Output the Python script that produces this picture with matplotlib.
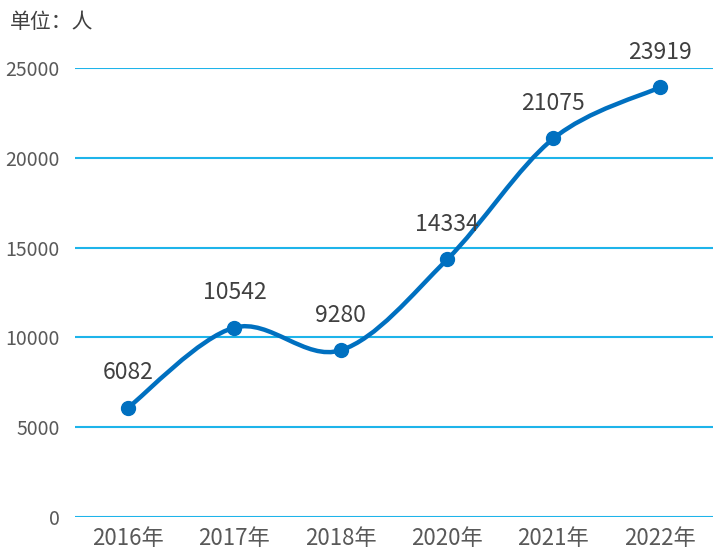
import matplotlib.pyplot as plt
from matplotlib.path import Path
import matplotlib.patches as mpatches
import numpy as np

plt.rcParams['font.family'] = ['Noto Sans CJK SC', 'DejaVu Sans']

years = ['2016年', '2017年', '2018年', '2020年', '2021年', '2022年']
people = [6082, 10542, 9280, 14334, 21075, 23919]

line_color = '#0070C0'
grid_color = '#1EB4EA'

fig = plt.figure(figsize=(7.13, 5.57), dpi=100)
ax = fig.add_axes([0.105, 0.072, 0.895, 0.806])

x = np.arange(len(years))
y = np.array(people, dtype=float)

# smooth curve: Catmull-Rom style bezier through the points
pts = np.column_stack([x, y])
ext = np.vstack([pts[0], pts, pts[-1]])
verts = [tuple(pts[0])]
codes = [Path.MOVETO]
for i in range(len(pts) - 1):
    p0, p1, p2, p3 = ext[i], ext[i + 1], ext[i + 2], ext[i + 3]
    c1 = p1 + (p2 - p0) / 6
    c2 = p2 - (p3 - p1) / 6
    verts += [tuple(c1), tuple(c2), tuple(p2)]
    codes += [Path.CURVE4, Path.CURVE4, Path.CURVE4]
curve = mpatches.PathPatch(Path(verts, codes), facecolor='none', edgecolor=line_color,
                           linewidth=3.2, capstyle='round', zorder=3)
ax.add_patch(curve)
ax.plot(x, y, 'o', color=line_color, markersize=10, zorder=4)

for xi, yi in zip(x, people):
    ax.annotate('%d' % yi, (xi, yi), xytext=(0, 25), textcoords='offset points',
                ha='center', va='center', fontsize=16.5, color='#404040', zorder=5)

ax.set_xlim(-0.5, len(years) - 0.5)
ax.set_ylim(0, 25000)
ax.set_yticks(np.arange(0, 25001, 5000))
ax.set_xticks(x)
ax.set_xticklabels(years)
ax.yaxis.grid(True, color=grid_color, linewidth=1.5)
ax.set_axisbelow(True)
for s in ax.spines.values():
    s.set_visible(False)
ax.tick_params(axis='y', length=0, pad=11, labelsize=14, labelcolor='#595959')
ax.tick_params(axis='x', length=0, pad=7, labelsize=16, labelcolor='#595959')

fig.text(0.014, 0.96, '单位：人', fontsize=15, color='#404040', va='center', ha='left')

fig.savefig('out.png', dpi=100)
